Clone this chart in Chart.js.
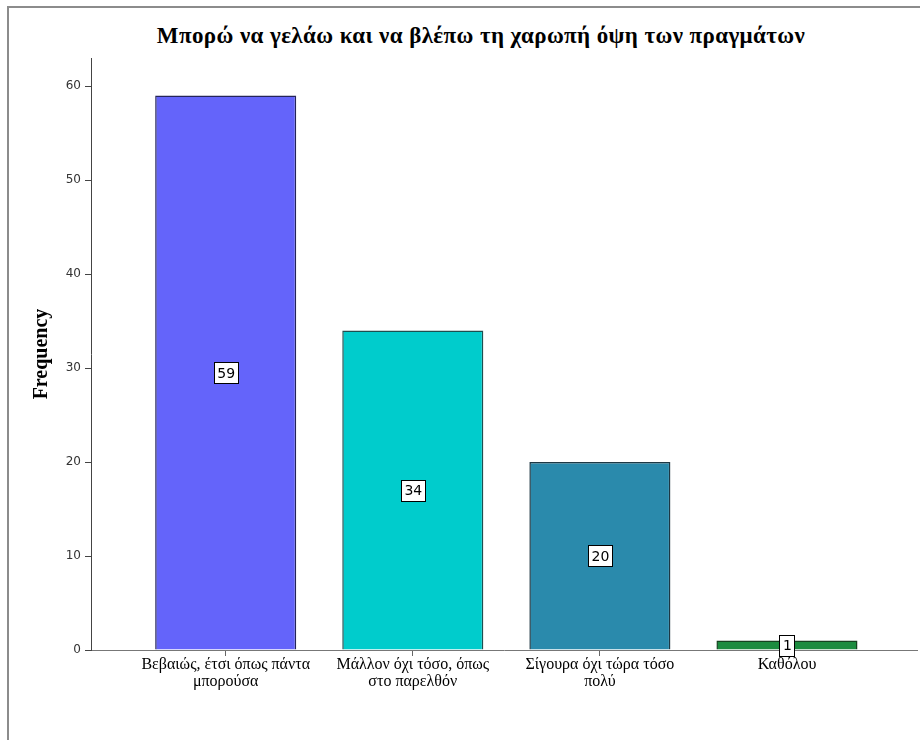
<!DOCTYPE html>
<html lang="el">
<head>
    <meta charset="UTF-8">
    <title>Μπορώ να γελάω</title>
    <script src="https://cdn.jsdelivr.net/npm/chart.js"></script>
    <style>
        html, body { margin: 0; padding: 0; background: #fff; overflow: hidden; }
        .frame { position: absolute; left: 7px; top: 6px; width: 930px; height: 750px; border-top: 2px solid #8c8c8c; border-left: 2px solid #8c8c8c; }
        .title { position: absolute; left: 81px; top: 23px; width: 800px; text-align: center; font: bold 23px "Liberation Serif", serif; letter-spacing: 0.4px; color: #000; }
        #chart { position: absolute; left: 0; top: 0; }
    </style>
</head>
<body>
    <div class="frame"></div>
    <div class="title">Μπορώ να γελάω και να βλέπω τη χαρωπή όψη των πραγμάτων</div>
    <canvas id="chart" width="920" height="740"></canvas>

    <script>
        const categories = [
            ['Βεβαιώς, έτσι όπως πάντα', 'μπορούσα'],
            ['Μάλλον όχι τόσο, όπως', 'στο παρελθόν'],
            ['Σίγουρα όχι τώρα τόσο', 'πολύ'],
            ['Καθόλου']
        ];
        const frequency = [59, 34, 20, 1];
        const yTicks = [0, 10, 20, 30, 40, 50, 60];
        const barColors = ['#6464fa', '#00cccc', '#2a8aac', '#1c8c3f'];
        const barBorders = ['#24245a', '#1d4f50', '#1d3844', '#15421f'];

        // white boxed value in the middle of each bar
        const valueBoxes = {
            id: 'valueBoxes',
            afterDatasetsDraw(chart) {
                const ctx = chart.ctx;
                const meta = chart.getDatasetMeta(0);
                ctx.save();
                ctx.font = '14px "DejaVu Sans", sans-serif';
                ctx.textAlign = 'center';
                ctx.textBaseline = 'middle';
                meta.data.forEach((bar, i) => {
                    const text = String(frequency[i]);
                    const cy = (bar.y + bar.base) / 2;
                    const w = Math.round(ctx.measureText(text).width + 6);
                    const h = 21;
                    const x0 = Math.round(bar.x - w / 2), y0 = Math.round(cy - h / 2);
                    ctx.fillStyle = '#fff';
                    ctx.fillRect(x0, y0, w, h);
                    ctx.strokeStyle = '#000';
                    ctx.lineWidth = 1;
                    ctx.strokeRect(x0 + 0.5, y0 + 0.5, w, h);
                    ctx.fillStyle = '#000';
                    ctx.fillText(text, bar.x + 0.5, cy + 1.5);
                });
                ctx.restore();
            }
        };

        new Chart(document.getElementById('chart').getContext('2d'), {
            type: 'bar',
            data: {
                datasets: [{
                    label: 'Frequency',
                    data: frequency.map((v, i) => ({ x: i, y: v })),
                    backgroundColor: barColors,
                    borderColor: barBorders,
                    borderWidth: 1.5,
                    categoryPercentage: 1,
                    barPercentage: 0.754
                }]
            },
            options: {
                responsive: false,
                animation: false,
                layout: { padding: { top: 58, right: 3, left: 0, bottom: 0 } },
                plugins: {
                    legend: { display: false },
                    tooltip: { enabled: false }
                },
                scales: {
                    x: {
                        type: 'linear',
                        offset: false,
                        min: -0.72,
                        max: 3.695,
                        afterBuildTicks: s => { s.ticks = categories.map((_, i) => ({ value: i })); },
                        afterFit: s => { s.height = 90; },
                        grid: { offset: false, drawOnChartArea: false, drawTicks: true, tickLength: 6, color: '#666' },
                        border: { color: '#777', width: 1 },
                        ticks: {
                            autoSkip: false,
                            maxRotation: 0,
                            padding: 1,
                            color: '#000',
                            font: { family: '"Liberation Serif", serif', size: 16, lineHeight: 1.02 },
                            callback: v => categories[v]
                        }
                    },
                    y: {
                        min: 0,
                        max: 63,
                        afterBuildTicks: s => { s.ticks = yTicks.map(v => ({ value: v })); },
                        afterFit: s => { s.width = 91; },
                        grid: { drawOnChartArea: false, drawTicks: true, tickLength: 6, color: '#444' },
                        border: { color: '#444', width: 1 },
                        ticks: {
                            padding: 4,
                            color: '#333',
                            font: { family: '"DejaVu Sans", sans-serif', size: 12 }
                        },
                        title: {
                            display: true,
                            text: 'Frequency',
                            color: '#000',
                            padding: { top: 30, bottom: 0 },
                            font: { family: '"Liberation Serif", serif', size: 20, weight: 'bold' }
                        }
                    }
                }
            },
            plugins: [valueBoxes]
        });
    </script>
</body>
</html>
